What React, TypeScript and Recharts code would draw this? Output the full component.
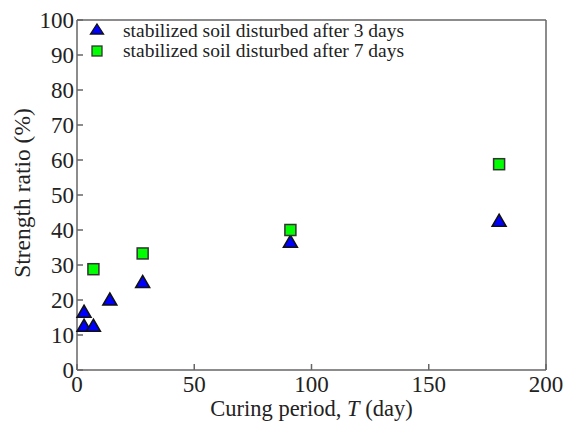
import React from 'react';
import { ScatterChart, Scatter, XAxis, YAxis } from 'recharts';

const days3X = [3, 3, 7, 14, 28, 91, 180];
const days3Y = [16.5, 12.5, 12.5, 20, 25, 36.5, 42.5];
const days7X = [7, 28, 91, 180];
const days7Y = [28.8, 33.3, 40, 58.8];
const xTicks = [0, 50, 100, 150, 200];
const yTicks = [0, 10, 20, 30, 40, 50, 60, 70, 80, 90, 100];
const legendLabels = ['stabilized soil disturbed after 3 days', 'stabilized soil disturbed after 7 days'];

const set3 = days3X.map((x, i) => ({ x, y: days3Y[i] }));
const set7 = days7X.map((x, i) => ({ x, y: days7Y[i] }));

const FONT = '"Liberation Serif", "Times New Roman", serif';
const AXIS = '#666';
const TEXT = '#222';

const Triangle = (props: any) => {
  const { cx, cy } = props;
  return (
    <polygon
      points={`${cx},${cy - 7} ${cx + 7},${cy + 5} ${cx - 7},${cy + 5}`}
      fill="#0000ff"
      stroke="#111"
      strokeWidth={1.5}
    />
  );
};

const Square = (props: any) => {
  const { cx, cy } = props;
  return <rect x={cx - 5.5} y={cy - 5.5} width={11} height={11} fill="#00ff00" stroke="#333" strokeWidth={1.5} />;
};

const XLabel = (props: any) => {
  const { viewBox } = props;
  const cx = viewBox.x + viewBox.width / 2;
  return (
    <text x={cx} y={416} textAnchor="middle" fontFamily={FONT} fontSize={22.5} fill={TEXT}>
      Curing period, <tspan fontStyle="italic">T</tspan> (day)
    </text>
  );
};

const YLabel = (props: any) => {
  const { viewBox } = props;
  const cy = viewBox.y + viewBox.height / 2 - 2;
  return (
    <text
      x={30}
      y={cy}
      transform={`rotate(-90 30 ${cy})`}
      textAnchor="middle"
      fontFamily={FONT}
      fontSize={23.5}
      fill={TEXT}
    >
      Strength ratio (%)
    </text>
  );
};

const LegendBox = () => (
  <svg width={360} height={44} style={{ position: 'absolute', left: 78, top: 20 }}>
    <polygon points="19,4 25.5,14 12.5,14" fill="#0000ff" stroke="#111" strokeWidth={1.3} />
    <rect x={14} y={26} width={10} height={10} fill="#00ff00" stroke="#333" strokeWidth={1.3} />
    <text x={45} y={17} fontFamily={FONT} fontSize={19.5} fill={TEXT}>{legendLabels[0]}</text>
    <text x={45} y={37} fontFamily={FONT} fontSize={19.5} fill={TEXT}>{legendLabels[1]}</text>
  </svg>
);

export default function App() {
  return (
    <div style={{ position: 'absolute', left: 0, top: 0, width: 574, height: 423, background: '#fff' }}>
      <ScatterChart width={574} height={423} margin={{ top: 0, right: 0, bottom: 0, left: 0 }}>
        <XAxis
          xAxisId="b"
          type="number"
          dataKey="x"
          domain={[0, 200]}
          ticks={xTicks}
          height={53}
          stroke={AXIS}
          strokeWidth={1.5}
          tickSize={-6}
          tickMargin={12}
          tick={{ fill: TEXT, fontSize: 23, fontFamily: FONT }}
          label={<XLabel />}
        />
        <XAxis
          xAxisId="t"
          orientation="top"
          type="number"
          domain={[0, 200]}
          ticks={xTicks}
          height={20}
          stroke={AXIS}
          strokeWidth={1.5}
          tickSize={-6}
          tickFormatter={() => ''}
        />
        <YAxis
          yAxisId="l"
          type="number"
          dataKey="y"
          domain={[0, 100]}
          ticks={yTicks}
          width={77}
          stroke={AXIS}
          strokeWidth={1.5}
          tickSize={-6}
          tickMargin={9}
          tick={{ fill: TEXT, fontSize: 23, fontFamily: FONT }}
          label={<YLabel />}
        />
        <YAxis
          yAxisId="r"
          orientation="right"
          type="number"
          domain={[0, 100]}
          ticks={yTicks}
          width={28}
          stroke={AXIS}
          strokeWidth={1.5}
          tickSize={-6}
          tickFormatter={() => ''}
        />
        <Scatter
          name={legendLabels[0]}
          data={set3}
          xAxisId="b"
          yAxisId="l"
          shape={Triangle}
          isAnimationActive={false}
        />
        <Scatter
          name={legendLabels[1]}
          data={set7}
          xAxisId="b"
          yAxisId="l"
          shape={Square}
          isAnimationActive={false}
        />
      </ScatterChart>
      <LegendBox />
    </div>
  );
}
